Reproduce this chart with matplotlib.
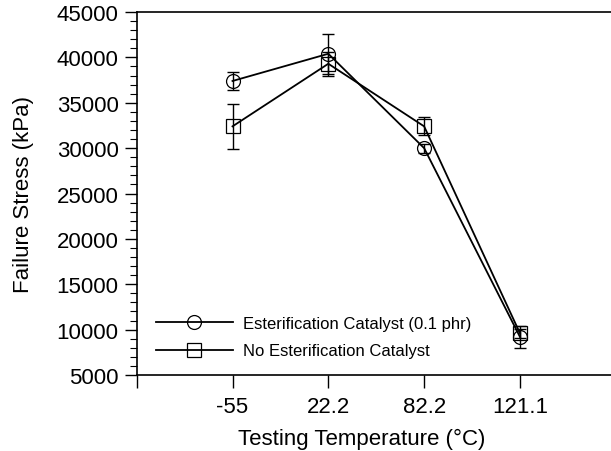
import matplotlib
matplotlib.use("Agg")
import matplotlib.pyplot as plt
from matplotlib.ticker import AutoMinorLocator

plt.rcParams['font.family'] = ['Liberation Sans', 'DejaVu Sans']

# data
temps = ['-55', '22.2', '82.2', '121.1']
cat_stress = [37400, 40400, 30000, 9200]
cat_err = [1000, 2200, 500, 1200]
nocat_stress = [32400, 39300, 32400, 9600]
nocat_err = [2500, 1300, 1000, 500]

xpos = [1, 2, 3, 4]

fig = plt.figure(figsize=(6.11, 4.52), dpi=100)
ax = fig.add_axes([0.2237, 0.1681, 0.7763, 0.8031])

# error bars first, then lines with markers
ax.errorbar(xpos, cat_stress, yerr=cat_err, fmt='none', ecolor='black',
            elinewidth=1.0, capsize=4, capthick=1.0)
ax.errorbar(xpos, nocat_stress, yerr=nocat_err, fmt='none', ecolor='black',
            elinewidth=1.0, capsize=4, capthick=1.0)
ax.plot(xpos, cat_stress, color='black', lw=1.3, marker='o', ms=10,
        mfc='none', mec='black', mew=0.9, label='Esterification Catalyst (0.1 phr)')
ax.plot(xpos, nocat_stress, color='black', lw=1.3, marker='s', ms=10,
        mfc='none', mec='black', mew=0.9, label='No Esterification Catalyst')

ax.set_xlim(0, 4.95)
ax.set_ylim(5000, 45000)
ax.set_xticks([0] + xpos)
ax.set_xticklabels([''] + temps)
ax.set_yticks(range(5000, 45001, 5000))
ax.yaxis.set_minor_locator(AutoMinorLocator(5))

ax.tick_params(axis='both', which='major', direction='out', length=9, width=1.0,
               labelsize=16, pad=4)
ax.tick_params(axis='x', which='major', pad=6)
ax.tick_params(axis='y', which='minor', direction='out', length=5, width=0.8)
ax.spines['right'].set_visible(False)
for s in ['left', 'bottom', 'top']:
    ax.spines[s].set_linewidth(1.2)

ax.set_xlabel('Testing Temperature (°C)', fontsize=16, labelpad=8)
ax.xaxis.label.set_x(0.475)
ax.set_ylabel('Failure Stress (kPa)', fontsize=16, labelpad=16)

ax.legend(loc='center left', bbox_to_anchor=(0.2553, 0.252),
          bbox_transform=fig.transFigure, frameon=False, fontsize=12,
          numpoints=1, handlelength=4.6, handletextpad=0.6, labelspacing=0.75,
          borderpad=0, borderaxespad=0)

fig.savefig('out.png', dpi=100)
